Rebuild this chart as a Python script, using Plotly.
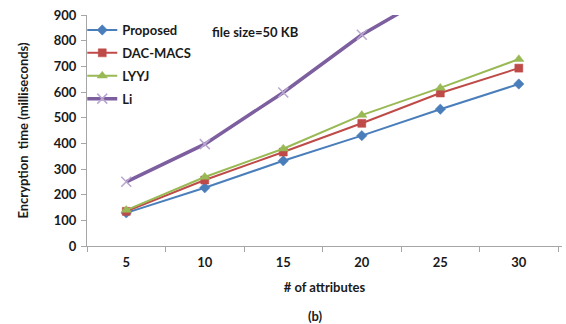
import plotly.graph_objects as go

categories = ["5", "10", "15", "20", "25", "30"]
proposed = [129, 227, 332, 430, 533, 631]
dac_macs = [135, 257, 366, 478, 596, 693]
lyyj = [140, 269, 379, 510, 616, 728]
li = [250, 397, 598, 823, 1000, 1180]

FONT = "Lato"
FS = 13
TXT = "#1a1a1a"
fig = go.Figure()
series = [
    ("Proposed", proposed, "#4a7ebb", "diamond", 2, 8),
    ("DAC-MACS", dac_macs, "#be4b48", "square", 2, 8),
    ("LYYJ", lyyj, "#98b954", "triangle-up", 2, 9),
    ("Li", li, "#7d5fa0", "x-thin", 3.5, 10),
]
for name, vals, col, sym, lw, ms in series:
    fig.add_trace(go.Scatter(
        x=categories, y=vals, name=name, mode="lines+markers", legendgroup=name,
        line=dict(color=col, width=lw),
        marker=dict(symbol=sym, size=ms, color=col,
                    line=dict(color="#b9a7d0" if name == "Li" else col, width=1.5 if name == "Li" else 0.5)),
    ))

bold = dict(family=FONT, size=FS, color=TXT, weight="bold")
fig.update_layout(
    width=566, height=324,
    margin=dict(l=87, r=4, t=15, b=78),
    plot_bgcolor="white", paper_bgcolor="white",
    font=dict(family=FONT, size=FS, color=TXT),
    showlegend=True,
    legend=dict(x=-0.01, y=1.0, xanchor="left", yanchor="top",
                bgcolor="rgba(0,0,0,0)", tracegroupgap=3,
                font=bold, itemwidth=30),
    xaxis=dict(type="category", range=[-0.5, 5.55], showgrid=False,
               showline=True, linecolor="#a6a6a6", linewidth=1,
               ticks="outside", tickson="boundaries", ticklen=5, tickcolor="#a6a6a6",
               ticklabelstandoff=4,
               tickfont=bold,
               title=dict(text="# of attributes", standoff=14, font=bold)),
    yaxis=dict(range=[0, 900], dtick=100, showgrid=False,
               showline=True, linecolor="#a6a6a6", linewidth=1,
               ticks="outside", ticklen=5, tickcolor="#a6a6a6",
               ticklabelstandoff=2,
               tickfont=bold,
               title=dict(text="Encryption  time (milliseconds)", standoff=22, font=bold)),
)
pw = 566 - 87 - 4
ph = 324 - 15 - 78
fig.add_annotation(text="file size=50 KB", x=(255 - 87) / pw, y=(ph - (32 - 15)) / ph,
                   xref="paper", yref="paper", showarrow=False, xanchor="center", yanchor="middle",
                   font=bold)
fig.add_annotation(text="(b)", x=(315 - 87) / pw, y=-(316 - 246) / ph,
                   xref="paper", yref="paper", showarrow=False, xanchor="center", yanchor="middle",
                   font=bold)

fig.write_html("out.html")
